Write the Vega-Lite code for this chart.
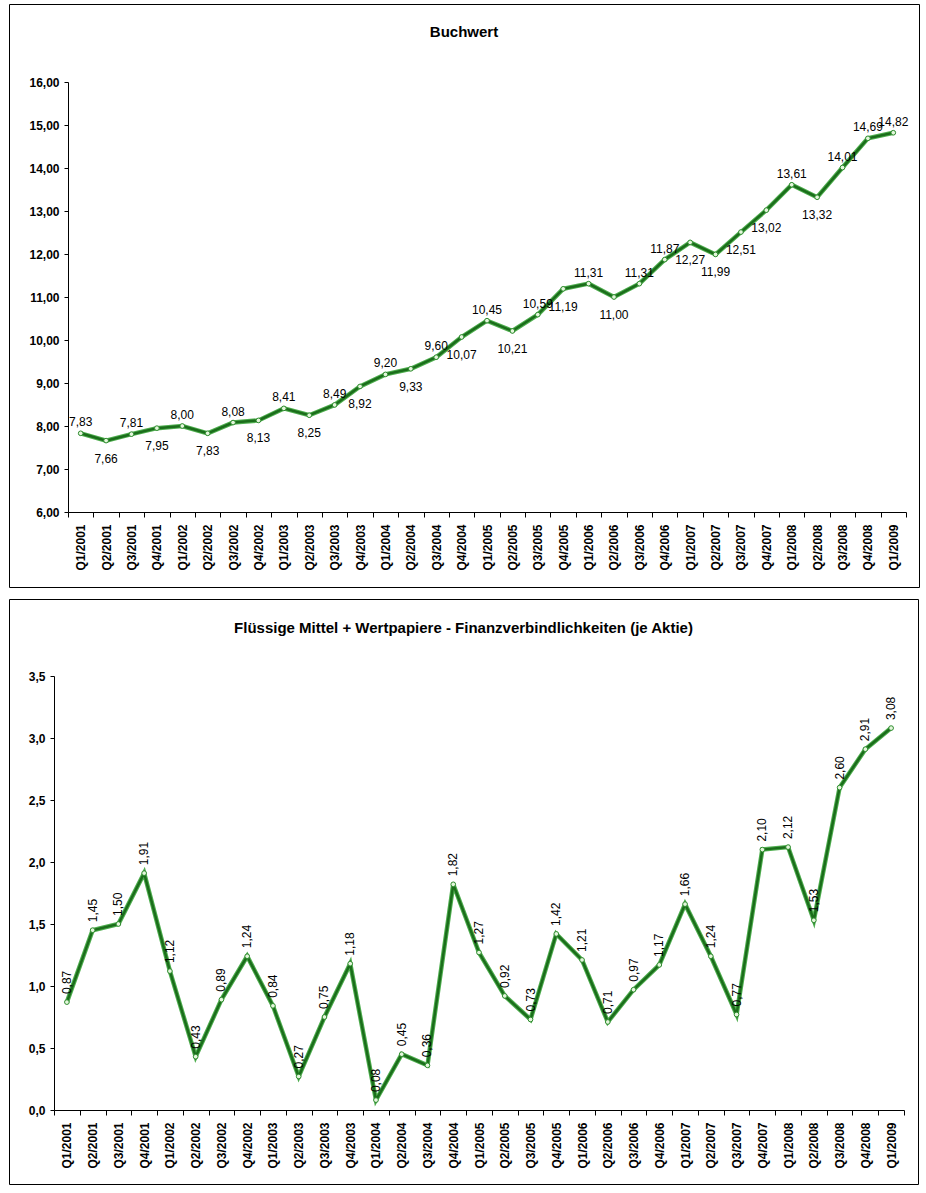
{
  "$schema": "https://vega.github.io/schema/vega-lite/v6.json",
  "padding": {"left": 2, "top": 3, "right": 0, "bottom": 0},
  "background": "white",
  "spacing": 10,
  "config": {
    "locale": {"number": {"decimal": ",", "thousands": ".", "grouping": [3], "currency": ["", " €"]}},
    "view": {"stroke": "black", "strokeWidth": 1},
    "font": "Liberation Sans",
    "axis": {
      "domainColor": "black", "tickColor": "black", "labelColor": "black",
      "labelFont": "Liberation Sans", "labelFontWeight": "bold", "labelFontSize": 12,
      "grid": false, "title": null, "minExtent": 0, "maxExtent": 0, "labelOverlap": false, "labelFlush": false
    },
    "title": {"font": "Liberation Sans", "fontSize": 15, "fontWeight": "bold", "color": "black", "anchor": "middle", "frame": "group", "baseline": "alphabetic"}
  },
  "datasets": {
    "buch": [
      {"q": "Q1/2001", "v": 7.83}, {"q": "Q2/2001", "v": 7.66}, {"q": "Q3/2001", "v": 7.81}, {"q": "Q4/2001", "v": 7.95},
      {"q": "Q1/2002", "v": 8.00}, {"q": "Q2/2002", "v": 7.83}, {"q": "Q3/2002", "v": 8.08}, {"q": "Q4/2002", "v": 8.13},
      {"q": "Q1/2003", "v": 8.41}, {"q": "Q2/2003", "v": 8.25}, {"q": "Q3/2003", "v": 8.49}, {"q": "Q4/2003", "v": 8.92},
      {"q": "Q1/2004", "v": 9.20}, {"q": "Q2/2004", "v": 9.33}, {"q": "Q3/2004", "v": 9.60}, {"q": "Q4/2004", "v": 10.07},
      {"q": "Q1/2005", "v": 10.45}, {"q": "Q2/2005", "v": 10.21}, {"q": "Q3/2005", "v": 10.59}, {"q": "Q4/2005", "v": 11.19},
      {"q": "Q1/2006", "v": 11.31}, {"q": "Q2/2006", "v": 11.00}, {"q": "Q3/2006", "v": 11.31}, {"q": "Q4/2006", "v": 11.87},
      {"q": "Q1/2007", "v": 12.27}, {"q": "Q2/2007", "v": 11.99}, {"q": "Q3/2007", "v": 12.51}, {"q": "Q4/2007", "v": 13.02},
      {"q": "Q1/2008", "v": 13.61}, {"q": "Q2/2008", "v": 13.32}, {"q": "Q3/2008", "v": 14.01}, {"q": "Q4/2008", "v": 14.69},
      {"q": "Q1/2009", "v": 14.82}
    ],
    "liq": [
      {"q": "Q1/2001", "v": 0.87}, {"q": "Q2/2001", "v": 1.45}, {"q": "Q3/2001", "v": 1.50}, {"q": "Q4/2001", "v": 1.91},
      {"q": "Q1/2002", "v": 1.12}, {"q": "Q2/2002", "v": 0.43}, {"q": "Q3/2002", "v": 0.89}, {"q": "Q4/2002", "v": 1.24},
      {"q": "Q1/2003", "v": 0.84}, {"q": "Q2/2003", "v": 0.27}, {"q": "Q3/2003", "v": 0.75}, {"q": "Q4/2003", "v": 1.18},
      {"q": "Q1/2004", "v": 0.08}, {"q": "Q2/2004", "v": 0.45}, {"q": "Q3/2004", "v": 0.36}, {"q": "Q4/2004", "v": 1.82},
      {"q": "Q1/2005", "v": 1.27}, {"q": "Q2/2005", "v": 0.92}, {"q": "Q3/2005", "v": 0.73}, {"q": "Q4/2005", "v": 1.42},
      {"q": "Q1/2006", "v": 1.21}, {"q": "Q2/2006", "v": 0.71}, {"q": "Q3/2006", "v": 0.97}, {"q": "Q4/2006", "v": 1.17},
      {"q": "Q1/2007", "v": 1.66}, {"q": "Q2/2007", "v": 1.24}, {"q": "Q3/2007", "v": 0.77}, {"q": "Q4/2007", "v": 2.10},
      {"q": "Q1/2008", "v": 2.12}, {"q": "Q2/2008", "v": 1.53}, {"q": "Q3/2008", "v": 2.60}, {"q": "Q4/2008", "v": 2.91},
      {"q": "Q1/2009", "v": 3.08}
    ]
  },
  "vconcat": [
    {
      "width": 910,
      "height": 583,
      "title": {"text": "Buchwert", "offset": -36},
      "data": {"name": "buch"},
      "encoding": {
        "x": {
          "field": "q", "type": "ordinal", "sort": null, "bandPosition": 0.5,
          "scale": {"type": "band", "range": [59, 897], "paddingInner": 0, "paddingOuter": 0},
          "axis": {"orient": "bottom", "offset": -75, "labelAngle": -90, "labelAlign": "right", "labelBaseline": "middle", "tickBand": "extent", "tickSize": 5, "labelPadding": 7}
        },
        "y": {
          "field": "v", "type": "quantitative",
          "scale": {"domain": [6, 16], "range": [508, 78], "nice": false, "zero": false},
          "axis": {"orient": "left", "offset": -59, "values": [6, 7, 8, 9, 10, 11, 12, 13, 14, 15, 16], "format": ".2f", "tickSize": 4, "labelPadding": 5}
        }
      },
      "layer": [
        {"mark": {"type": "line", "color": "#4fae4f", "strokeWidth": 4.5}},
        {"mark": {"type": "line", "color": "#1b6e1b", "strokeWidth": 2.5}},
        {"mark": {"type": "point", "shape": "circle", "size": 22, "fill": "#e4f7dc", "stroke": "#2e8b2e", "strokeWidth": 1, "opacity": 1, "fillOpacity": 1}},
        {
          "transform": [{"filter": {"field": "q", "oneOf": ["Q1/2001", "Q3/2001", "Q1/2002", "Q3/2002", "Q1/2003", "Q3/2003", "Q1/2004", "Q3/2004", "Q1/2005", "Q3/2005", "Q1/2006", "Q3/2006", "Q4/2006", "Q1/2008", "Q3/2008", "Q4/2008", "Q1/2009"]}}],
          "mark": {"type": "text", "baseline": "alphabetic", "align": "center", "dy": -7, "fontSize": 12, "font": "Liberation Sans", "color": "black"},
          "encoding": {"text": {"field": "v", "type": "quantitative", "format": ".2f"}}
        },
        {
          "transform": [{"filter": {"not": {"field": "q", "oneOf": ["Q1/2001", "Q3/2001", "Q1/2002", "Q3/2002", "Q1/2003", "Q3/2003", "Q1/2004", "Q3/2004", "Q1/2005", "Q3/2005", "Q1/2006", "Q3/2006", "Q4/2006", "Q1/2008", "Q3/2008", "Q4/2008", "Q1/2009"]}}}],
          "mark": {"type": "text", "baseline": "alphabetic", "align": "center", "dy": 22, "fontSize": 12, "font": "Liberation Sans", "color": "black"},
          "encoding": {"text": {"field": "v", "type": "quantitative", "format": ".2f"}}
        }
      ]
    },
    {
      "width": 909,
      "height": 585,
      "title": {"text": "Flüssige Mittel + Wertpapiere - Finanzverbindlichkeiten (je Aktie)", "offset": -37},
      "data": {"name": "liq"},
      "encoding": {
        "x": {
          "field": "q", "type": "ordinal", "sort": null, "bandPosition": 0.5,
          "scale": {"type": "band", "range": [45, 895], "paddingInner": 0, "paddingOuter": 0},
          "axis": {"orient": "bottom", "offset": -74, "labelAngle": -90, "labelAlign": "right", "labelBaseline": "middle", "tickBand": "extent", "tickSize": 5, "labelPadding": 7}
        },
        "y": {
          "field": "v", "type": "quantitative",
          "scale": {"domain": [0, 3.5], "range": [511, 77], "nice": false, "zero": false},
          "axis": {"orient": "left", "offset": -45, "values": [0, 0.5, 1, 1.5, 2, 2.5, 3, 3.5], "format": ".1f", "tickSize": 4, "labelPadding": 5}
        }
      },
      "layer": [
        {"mark": {"type": "line", "color": "#4fae4f", "strokeWidth": 4.5}},
        {"mark": {"type": "line", "color": "#1b6e1b", "strokeWidth": 2.5}},
        {"mark": {"type": "point", "shape": "circle", "size": 22, "fill": "#e4f7dc", "stroke": "#2e8b2e", "strokeWidth": 1, "opacity": 1, "fillOpacity": 1}},
        {
          "mark": {"type": "text", "angle": 270, "align": "left", "baseline": "middle", "dx": 8, "fontSize": 12, "font": "Liberation Sans", "color": "black"},
          "encoding": {"text": {"field": "v", "type": "quantitative", "format": ".2f"}}
        }
      ]
    }
  ]
}
